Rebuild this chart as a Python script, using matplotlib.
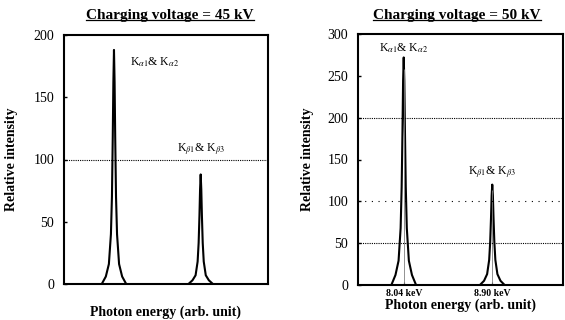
import matplotlib
matplotlib.use("Agg")
import matplotlib.pyplot as plt
from matplotlib.lines import Line2D

plt.rcParams['font.family'] = ['Liberation Serif', 'DejaVu Serif']
plt.rcParams['mathtext.fontset'] = 'stix'

# ---- data ----
left_title = "Charging voltage = 45 kV"
right_title = "Charging voltage = 50 kV"
ylabel = "Relative intensity"
xlabel = "Photon energy (arb. unit)"

# left panel (arbitrary x units 0..100)
left_peak_pos = [24.5, 67.0]
left_offsets = [-6, -4, -2.5, -1.5, -1, -0.6, -0.3, 0, 0.3, 0.6, 1, 1.5, 2.5, 4, 6]
left_peak1 = [0, 6, 16, 40, 70, 118, 162, 188, 162, 118, 70, 40, 16, 6, 0]
left_peak2 = [0, 3, 7, 18, 33, 55, 76, 88, 76, 55, 33, 18, 7, 3, 0]
left_yticks = [0, 50, 100, 150, 200]

# right panel (keV)
right_peak_pos = [8.04, 8.90]
right_offsets = [-0.12, -0.08, -0.05, -0.03, -0.02, -0.012, -0.006, 0,
                 0.006, 0.012, 0.02, 0.03, 0.05, 0.08, 0.12]
right_peak1 = [0, 12, 29, 68, 117, 184, 244, 272, 244, 184, 117, 68, 29, 12, 0]
right_peak2 = [0, 5, 13, 30, 52, 81, 107, 120, 107, 81, 52, 30, 13, 5, 0]
right_yticks = [0, 50, 100, 150, 200, 250, 300]
right_xticklabels = ["8.04 keV", "8.90 keV"]

ka_label = r"K$_{\alpha1}$& K$_{\alpha2}$"
kb_label = r"K$_{\beta1}$& K$_{\beta3}$"

fig = plt.figure(figsize=(5.65, 3.2), dpi=100)
axL = fig.add_axes([64/565, 36/320, 204/565, 249/320])
axR = fig.add_axes([358/565, 35/320, 205/565, 251/320])

def style(ax):
    for s in ax.spines.values():
        s.set_linewidth(1.5)
    ax.tick_params(axis='y', direction='in', length=2.5, width=1, labelsize=10, pad=7)
    ax.set_ylabel(ylabel, fontsize=10, fontweight='bold')

# left
for pos, prof in zip(left_peak_pos, [left_peak1, left_peak2]):
    axL.plot([pos + o for o in left_offsets], prof, color='black', lw=1.5)
axL.axhline(100, color='black', lw=0.8, ls=(0, (1, 1)))
axL.set_xlim(0, 100)
axL.set_ylim(0, 200)
axL.set_yticks(left_yticks)
axL.set_xticks([])
style(axL)
axL.yaxis.set_label_coords(-0.225, 0.5)
axL.set_xlabel(xlabel, fontsize=10, fontweight='bold')
axL.xaxis.set_label_coords(0.5, -0.088)
axL.text(left_peak_pos[0] + 8, 178, ka_label, fontsize=8.5, ha='left', va='center')
axL.text(left_peak_pos[1], 108, kb_label, fontsize=8.5, ha='center', va='center')

# right
for pos, prof, h in zip(right_peak_pos, [right_peak1, right_peak2], [right_peak1[7], right_peak2[7]]):
    axR.plot([pos + o for o in right_offsets], prof, color='black', lw=1.5)
    axR.vlines(pos, 0, h * 0.95, color='gray', lw=0.6)
axR.axhline(200, color='black', lw=0.8, ls=(0, (1, 1)))
axR.axhline(100, color='black', lw=0.8, ls=(0, (1, 5)))
axR.axhline(50, color='black', lw=0.8, ls=(0, (1, 1)))
axR.set_xlim(7.596, 9.587)
axR.set_ylim(0, 300)
axR.set_yticks(right_yticks)
axR.set_xticks(right_peak_pos)
axR.set_xticklabels(right_xticklabels, fontsize=7, fontweight='bold')
axR.tick_params(axis='x', direction='in', length=2, pad=3)
style(axR)
axR.yaxis.set_label_coords(-0.214, 0.5)
axR.set_xlabel(xlabel, fontsize=10, fontweight='bold')
axR.xaxis.set_label_coords(0.5, -0.052)
axR.text(right_peak_pos[0], 283, ka_label, fontsize=8.5, ha='center', va='center')
axR.text(right_peak_pos[1], 134, kb_label, fontsize=8.5, ha='center', va='center')

# underlined titles
titles = []
for cx, t in [(170/565, left_title), (457/565, right_title)]:
    titles.append(fig.text(cx, 1 - 15/320, t, fontsize=11, fontweight='bold',
                           ha='center', va='center'))
fig.canvas.draw()
r = fig.canvas.get_renderer()
for t in titles:
    bb = t.get_window_extent(r).transformed(fig.transFigure.inverted())
    fig.add_artist(Line2D([bb.x0, bb.x1], [bb.y0 + 0.005, bb.y0 + 0.005],
                          transform=fig.transFigure, color='black', lw=0.9))

fig.savefig("out.png", dpi=100)
